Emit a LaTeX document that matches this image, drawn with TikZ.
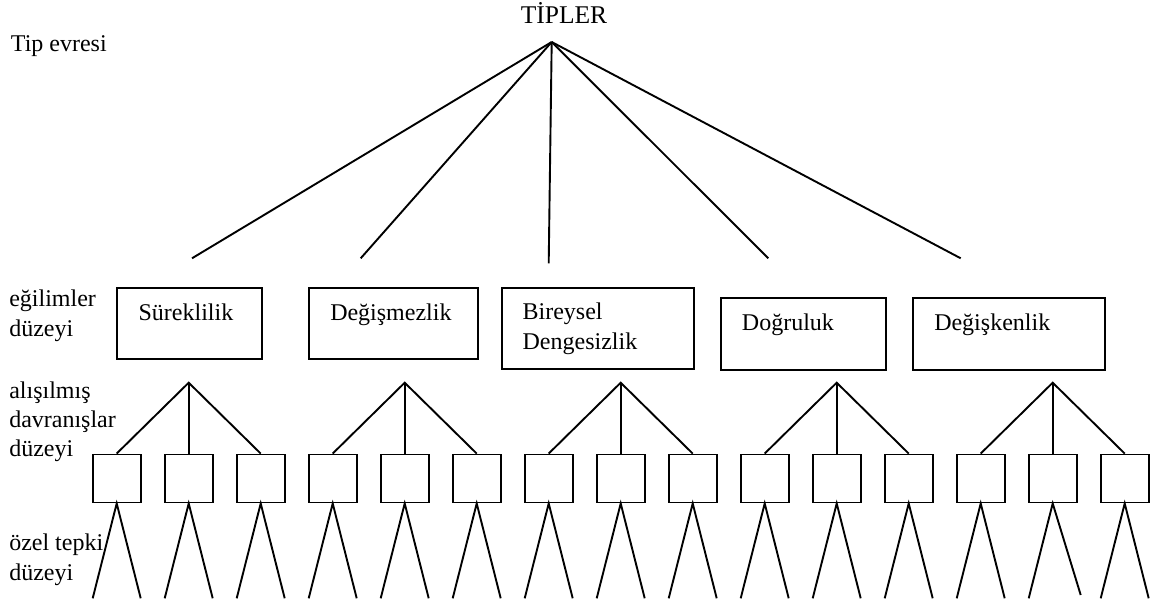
\documentclass[tikz,border=0pt]{standalone}
\usepackage{fontspec}
\setmainfont{Liberation Serif}
\begin{document}
\begin{tikzpicture}[x=1pt,y=-1pt,line width=1.9pt,
  lbl/.style={inner sep=0pt,anchor=base west,align=left,font=\fontsize{24}{29.3}\selectfont},
  bigbox/.style={draw,inner sep=0pt,anchor=north west},
  smallbox/.style={draw,minimum width=48pt,minimum height=48pt,inner sep=0pt}]
\useasboundingbox (0,0) rectangle (1164,604);
% top
\node[lbl,anchor=base,font=\fontsize{25.5}{30}\selectfont] (tipler) at (564,23.3) {TİPLER};
\coordinate (top) at (551.7,42);
\coordinate (e1) at (192,258.3);
\coordinate (e2) at (360.7,258.3);
\coordinate (e3) at (548.7,263.3);
\coordinate (e4) at (768.3,258.3);
\coordinate (e5) at (960.7,258.3);
\foreach \e in {e1,e2,e3,e4,e5} \draw (top) -- (\e);
% level labels (base = last line)
\node[lbl] (lv1) at (10,51.7) {Tip evresi};
\node[lbl] (lv2) at (8.3,336) {eğilimler\\düzeyi};
\node[lbl] (lv3) at (8.3,456.7) {alışılmış\\davranışlar\\düzeyi};
\node[lbl] (lv4) at (8.3,580) {özel tepki\\düzeyi};
% big boxes
\node[bigbox,minimum width=145pt,minimum height=71pt] (b1) at (116,287) {};
\node[lbl] (t1) at (137.7,320) {Süreklilik};
\node[bigbox,minimum width=169pt,minimum height=71pt] (b2) at (308.3,287) {};
\node[lbl] (t2) at (329.3,320) {Değişmezlik};
\node[bigbox,minimum width=192pt,minimum height=81.3pt] (b3) at (500.7,287) {};
\node[lbl] (t3) at (521.7,349) {Bireysel\\Dengesizlik};
\node[bigbox,minimum width=165pt,minimum height=72.3pt] (b4) at (720,297) {};
\node[lbl] (t4) at (741,330.7) {Doğruluk};
\node[bigbox,minimum width=192.3pt,minimum height=72.3pt] (b5) at (912,297) {};
\node[lbl] (t5) at (933.3,330.7) {Değişkenlik};
% small boxes and legs
\foreach \i in {0,...,14} {
  \node[smallbox] (s\i) at ({116.7+72*\i},478.5) {};
  \coordinate (l\i) at ({92.7+72*\i},598.3);
  \coordinate (r\i) at ({140.7+72*\i},598.3);
}
\coordinate (r13) at (1080.7,595);
\foreach \i in {0,...,14} \draw (l\i) -- (s\i.south) -- (r\i);
% forks
\foreach \g in {0,...,4} {
  \pgfmathtruncatemacro\a{3*\g}
  \pgfmathtruncatemacro\m{3*\g+1}
  \pgfmathtruncatemacro\c{3*\g+2}
  \coordinate (f\g) at ({116.7+72*\m},382.7);
  \draw (s\a.north) -- (f\g) -- (s\c.north);
  \draw (f\g) -- (s\m.north);
}
\end{tikzpicture}
\end{document}
